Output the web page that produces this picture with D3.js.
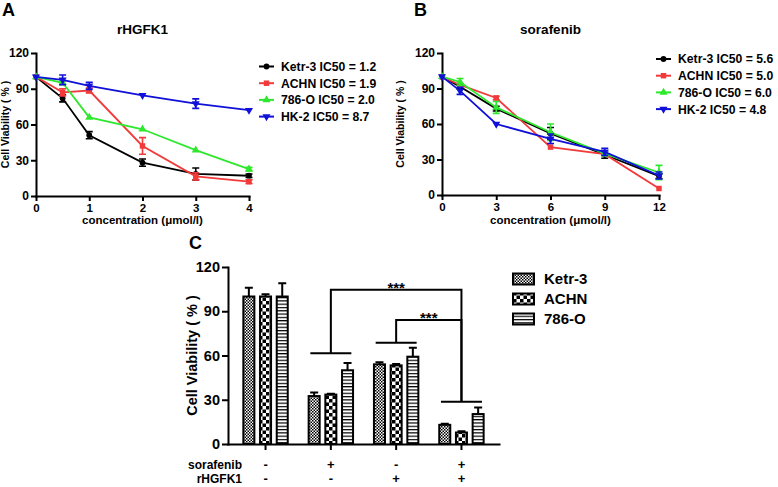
<!DOCTYPE html>
<html>
<head>
<meta charset="utf-8">
<script src="https://cdn.jsdelivr.net/npm/d3@7"></script>
<style>
  body { margin: 0; background: #fff; }
  svg text { font-family: "Liberation Sans", Arial, sans-serif; font-weight: bold; fill: #000; }
</style>
</head>
<body>
<svg id="fig" width="778" height="487"></svg>
<script>
// ---- panel A: rHGFK1 dose response ----
const doseA = [0, 0.5, 1, 2, 3, 4];
const ketrA = [100, 82, 51, 28, 18.5, 17];
const ketrAErr = [1, 3, 3, 3, 5, 1.5];
const achnA = [100, 87, 88.5, 42, 16.5, 12];
const achnAErr = [1, 3, 2, 7, 3, 1.5];
const o786A = [100, 95, 66, 56, 38.5, 22.5];
const o786AErr = [1, 1.5, 1, 1, 1, 1.5];
const hk2A = [100, 97.5, 92.5, 84.5, 77.5, 72];
const hk2AErr = [1, 4, 3, 1, 4, 1];
const legendA = ["Ketr-3 IC50 = 1.2", "ACHN IC50 = 1.9", "786-O IC50 = 2.0", "HK-2 IC50 = 8.7"];
const xTicksA = [0, 1, 2, 3, 4];

// ---- panel B: sorafenib dose response ----
const doseB = [0, 1, 3, 6, 9, 12];
const ketrB = [100, 91.5, 73, 52, 34, 16];
const ketrBErr = [1, 2, 2, 5, 3, 2];
const achnB = [100, 93, 82, 40.5, 34.5, 5.5];
const achnBErr = [1, 1, 1.5, 1, 1, 1];
const o786B = [100, 95.5, 74, 53, 35, 19];
const o786BErr = [1, 3, 5, 7, 2, 6];
const hk2B = [100, 88, 60, 47.5, 36.5, 16.5];
const hk2BErr = [1, 3, 1, 4, 3, 3];
const legendB = ["Ketr-3 IC50 = 5.6", "ACHN IC50 = 5.0", "786-O IC50 = 6.0", "HK-2 IC50 = 4.8"];
const xTicksB = [0, 3, 6, 9, 12];

const yTicks = [0, 30, 60, 90, 120];
const lineColors = ["#000000", "#f23a3a", "#2ee82e", "#1010d8"];

// ---- panel C: combination bars ----
const groupsC = ["ctrl", "sor", "k1", "both"];
const sorafenibC = ["-", "+", "-", "+"];
const rhgfk1C = ["-", "-", "+", "+"];
const cellLines = ["Ketr-3", "ACHN", "786-O"];
const ketrC = [100, 32.5, 54, 13];
const ketrCErr = [6, 2.5, 1.5, 0.8];
const achnC = [100, 33.5, 53.3, 7.8];
const achnCErr = [1.5, 0.5, 1, 0.8];
const o786C = [100, 50, 59.2, 20.3];
const o786CErr = [9, 5, 6, 4.5];
// significance brackets
const groupBarLevel = [null, 61.5, 68.6, 28.7];
const bracketFrom = [1, 2];
const bracketTo = [3, 3];
const bracketTop = [104.5, 84];
const bracketLabel = ["***", "***"];

const svg = d3.select("#fig");
const defs = svg.append("defs");

// fill patterns for the bars
const pKetr = defs.append("pattern").attr("id", "pKetr").attr("patternUnits", "userSpaceOnUse")
    .attr("width", 3).attr("height", 3);
pKetr.append("rect").attr("width", 3).attr("height", 3).attr("fill", "#fff");
pKetr.append("rect").attr("width", 1.5).attr("height", 1.5).attr("fill", "#000");
pKetr.append("rect").attr("x", 1.5).attr("y", 1.5).attr("width", 1.5).attr("height", 1.5).attr("fill", "#000");

const pAchn = defs.append("pattern").attr("id", "pAchn").attr("patternUnits", "userSpaceOnUse")
    .attr("width", 7).attr("height", 7);
pAchn.append("rect").attr("width", 7).attr("height", 7).attr("fill", "#fff");
pAchn.append("rect").attr("width", 3.5).attr("height", 3.5).attr("fill", "#000");
pAchn.append("rect").attr("x", 3.5).attr("y", 3.5).attr("width", 3.5).attr("height", 3.5).attr("fill", "#000");

const p786 = defs.append("pattern").attr("id", "p786").attr("patternUnits", "userSpaceOnUse")
    .attr("width", 4).attr("height", 3.3);
p786.append("rect").attr("width", 4).attr("height", 3.3).attr("fill", "#fff");
p786.append("rect").attr("width", 4).attr("height", 1.2).attr("fill", "#000");

const barFills = ["url(#pKetr)", "url(#pAchn)", "url(#p786)"];

const symbols = [
    d3.symbol().type(d3.symbolCircle).size(26)(),
    d3.symbol().type(d3.symbolSquare).size(30)(),
    d3.symbol().type(d3.symbolTriangle).size(28)(),
    d3.symbol().type(d3.symbolTriangle).size(28)()
];

function styleAxis(sel, fs) {
    sel.attr("font-family", null).attr("font-size", fs);
    sel.select(".domain").attr("stroke-width", 2).attr("stroke-linecap", "square");
    sel.selectAll(".tick line").attr("stroke-width", 2);
}

// draws one dose-response panel
function linePanel(o) {
    const g = svg.append("g");
    const x = d3.scaleLinear().domain([o.dose[0], o.dose[o.dose.length - 1]]).range(o.xRange);
    const y = d3.scaleLinear().domain([0, 120]).range(o.yRange);

    g.append("g").attr("transform", `translate(0,${o.yRange[0]})`)
        .call(d3.axisBottom(x).tickValues(o.xTicks).tickFormat(d3.format("d"))
            .tickSize(5).tickSizeOuter(0).tickPadding(3))
        .call(styleAxis, 11.5);
    g.append("g").attr("transform", `translate(${o.xRange[0]},0)`)
        .call(d3.axisLeft(y).tickValues(yTicks).tickSize(5).tickSizeOuter(0).tickPadding(2))
        .call(styleAxis, 12);

    const line = d3.line().x((d, i) => x(o.dose[i])).y(d => y(d));

    o.series.forEach((s, k) => {
        const col = lineColors[k];
        const sg = g.append("g");
        sg.append("path").attr("d", line(s.v)).attr("fill", "none")
            .attr("stroke", col).attr("stroke-width", 1.8);
        // error bars
        s.v.forEach((v, i) => {
            const e = s.e[i];
            if (e < 1.2) return;
            const cx = x(o.dose[i]);
            sg.append("path")
                .attr("d", `M${cx},${y(v - e)}V${y(v + e)}M${cx - 3.5},${y(v - e)}H${cx + 3.5}M${cx - 3.5},${y(v + e)}H${cx + 3.5}`)
                .attr("stroke", col).attr("stroke-width", 1.6).attr("fill", "none");
        });
        sg.selectAll("path.m").data(s.v).join("path").attr("class", "m")
            .attr("d", symbols[k])
            .attr("transform", (d, i) => `translate(${x(o.dose[i])},${y(d)})` + (k === 3 ? " rotate(180)" : ""))
            .attr("fill", col);
    });

    // titles
    g.append("text").attr("x", o.letterX).attr("y", 16).attr("font-size", 18).text(o.letter);
    g.append("text").attr("x", (o.xRange[0] + o.xRange[1]) / 2).attr("y", 34)
        .attr("text-anchor", "middle").attr("font-size", 13.5).text(o.title);
    g.append("text").attr("x", (o.xRange[0] + o.xRange[1]) / 2).attr("y", 224)
        .attr("text-anchor", "middle").attr("font-size", 11.5).text("concentration (\u03bcmol/l)");
    g.append("text").attr("transform", `translate(${o.yLabelX},${(o.yRange[0] + o.yRange[1]) / 2}) rotate(-90)`)
        .attr("text-anchor", "middle").attr("font-size", 10.5).text("Cell Viability ( % )");

    // legend
    const lg = g.append("g").attr("transform", `translate(${o.legendX},${o.legendY})`);
    o.legend.forEach((t, k) => {
        const row = lg.append("g").attr("transform", `translate(0,${k * 16.7})`);
        row.append("line").attr("x1", 0).attr("x2", 15).attr("stroke", lineColors[k]).attr("stroke-width", 2);
        row.append("path").attr("d", symbols[k]).attr("fill", lineColors[k])
            .attr("transform", "translate(7.5,0)" + (k === 3 ? " rotate(180)" : ""));
        row.append("text").attr("x", 22).attr("dy", "0.36em").attr("font-size", 12.2).text(t);
    });
}

linePanel({
    dose: doseA, xTicks: xTicksA, xRange: [36, 249], yRange: [196, 53],
    series: [{ v: ketrA, e: ketrAErr }, { v: achnA, e: achnAErr }, { v: o786A, e: o786AErr }, { v: hk2A, e: hk2AErr }],
    legend: legendA, legendX: 259, legendY: 66.5, letter: "A", letterX: 2, title: "rHGFK1", yLabelX: 9
});
linePanel({
    dose: doseB, xTicks: xTicksB, xRange: [442, 659], yRange: [195, 53],
    series: [{ v: ketrB, e: ketrBErr }, { v: achnB, e: achnBErr }, { v: o786B, e: o786BErr }, { v: hk2B, e: hk2BErr }],
    legend: legendB, legendX: 656, legendY: 59, letter: "B", letterX: 414, title: "sorafenib", yLabelX: 404
});

// ---- panel C ----
const gc = svg.append("g");
const x0 = d3.scaleBand().domain(groupsC).range([228, 499]).paddingInner(0).paddingOuter(0.075);
const x1 = d3.scaleBand().domain(cellLines).range([-22.2, 22.2]).paddingInner(0.34).paddingOuter(0);
const yc = d3.scaleLinear().domain([0, 120]).range([444, 267]);
const valuesC = [ketrC, achnC, o786C];
const errC = [ketrCErr, achnCErr, o786CErr];
const mid = g => x0(g) + x0.bandwidth() / 2;

groupsC.forEach((grp, gi) => {
    cellLines.forEach((cl, ci) => {
        const v = valuesC[ci][gi], e = errC[ci][gi];
        const bx = mid(grp) + x1(cl);
        const bw = x1.bandwidth();
        const cx = bx + bw / 2;
        gc.append("path")
            .attr("d", `M${cx},${yc(v)}V${yc(v + e)}M${cx - 4},${yc(v + e)}H${cx + 4}`)
            .attr("stroke", "#000").attr("stroke-width", 2).attr("fill", "none");
        gc.append("rect").attr("x", bx).attr("y", yc(v)).attr("width", bw).attr("height", yc(0) - yc(v))
            .attr("fill", barFills[ci]).attr("stroke", "#000").attr("stroke-width", 2);
    });
});

gc.append("g").attr("transform", `translate(0,${yc(0)})`)
    .call(d3.axisBottom(x0).tickSize(6).tickSizeOuter(0).tickFormat(""))
    .call(styleAxis, 14);
gc.append("g").attr("transform", "translate(228,0)")
    .call(d3.axisLeft(yc).tickValues(yTicks).tickSize(6).tickSizeOuter(0).tickPadding(2))
    .call(styleAxis, 14.5);

// brackets
groupsC.forEach((grp, gi) => {
    if (groupBarLevel[gi] == null) return;
    gc.append("line").attr("x1", mid(grp) - 20.5).attr("x2", mid(grp) + 20.5)
        .attr("y1", yc(groupBarLevel[gi])).attr("y2", yc(groupBarLevel[gi]))
        .attr("stroke", "#000").attr("stroke-width", 2);
});
bracketFrom.forEach((f, i) => {
    const xa = mid(groupsC[f]), xb = mid(groupsC[bracketTo[i]]);
    const top = yc(bracketTop[i]);
    gc.append("path")
        .attr("d", `M${xa},${yc(groupBarLevel[f])}V${top}H${xb}V${yc(groupBarLevel[bracketTo[i]])}`)
        .attr("fill", "none").attr("stroke", "#000").attr("stroke-width", 2);
    gc.append("text").attr("x", (xa + xb) / 2).attr("y", top + 3).attr("text-anchor", "middle")
        .attr("font-size", 15).text(bracketLabel[i]);
});

gc.append("text").attr("x", 189).attr("y", 249).attr("font-size", 18).text("C");
gc.append("text").attr("transform", `translate(197,${(444 + 267) / 2}) rotate(-90)`)
    .attr("text-anchor", "middle").attr("font-size", 14.5).text("Cell Viability ( % )");

// treatment rows
gc.append("text").attr("x", 242).attr("y", 469).attr("text-anchor", "end").attr("font-size", 12).text("sorafenib");
gc.append("text").attr("x", 242).attr("y", 483).attr("text-anchor", "end").attr("font-size", 12).text("rHGFK1");
groupsC.forEach((grp, gi) => {
    gc.append("text").attr("x", mid(grp)).attr("y", 469).attr("text-anchor", "middle").attr("font-size", 13).text(sorafenibC[gi]);
    gc.append("text").attr("x", mid(grp)).attr("y", 483).attr("text-anchor", "middle").attr("font-size", 13).text(rhgfk1C[gi]);
});

// legend C
const lc = gc.append("g").attr("transform", "translate(513,279)");
cellLines.forEach((cl, ci) => {
    const row = lc.append("g").attr("transform", `translate(0,${ci * 20})`);
    row.append("rect").attr("y", -5.5).attr("width", 21).attr("height", 11)
        .attr("fill", barFills[ci]).attr("stroke", "#000").attr("stroke-width", 2);
    row.append("text").attr("x", 31).attr("dy", "0.36em").attr("font-size", 15).text(cl);
});
</script>
</body>
</html>
